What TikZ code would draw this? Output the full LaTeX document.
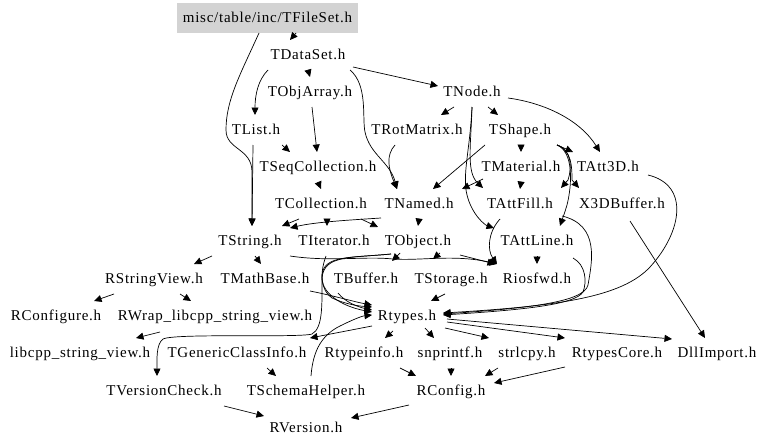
\documentclass[tikz,border=0pt]{standalone}
\usepackage{fontspec}
\setmainfont{Liberation Serif}[LetterSpace=5]
\usetikzlibrary{arrows.meta,calc}
\definecolor{rootfill}{RGB}{211,211,211}
\begin{document}
\begin{tikzpicture}[x=1pt,y=-1pt,
  lbl/.style={inner xsep=4pt,inner ysep=0pt,minimum height=29pt,text height=11pt,text depth=3pt,font=\fontsize{15}{18}\selectfont},
  rootbox/.style={lbl,fill=rootfill,minimum width=181pt,minimum height=30pt},
  e/.style={draw,line width=0.7pt,-{Triangle[length=7.5pt,width=7pt]}}]
\useasboundingbox[fill=white] (0,0) rectangle (768,447);
% nodes
\node[rootbox] (FileSet) at (267.5,18) {misc/table/inc/TFileSet.h};
\node[lbl] (DataSet) at (308,55) {TDataSet.h};
\node[lbl] (ObjArray) at (310,92) {TObjArray.h};
\node[lbl] (Node) at (472,92) {TNode.h};
\node[lbl] (List) at (256,130) {TList.h};
\node[lbl] (RotMatrix) at (417,130) {TRotMatrix.h};
\node[lbl] (Shape) at (520,130) {TShape.h};
\node[lbl] (SeqColl) at (318,167) {TSeqCollection.h};
\node[lbl] (Material) at (521,167) {TMaterial.h};
\node[lbl] (Att3D) at (608,167) {TAtt3D.h};
\node[lbl] (Collection) at (321,204) {TCollection.h};
\node[lbl] (Named) at (419,204) {TNamed.h};
\node[lbl] (AttFill) at (520,204) {TAttFill.h};
\node[lbl] (X3D) at (622,204) {X3DBuffer.h};
\node[lbl] (String) at (250,241) {TString.h};
\node[lbl] (Iterator) at (334,241) {TIterator.h};
\node[lbl] (Object) at (418,241) {TObject.h};
\node[lbl] (AttLine) at (537,241) {TAttLine.h};
\node[lbl] (RSV) at (154,279) {RStringView.h};
\node[lbl] (MathBase) at (265,279) {TMathBase.h};
\node[lbl] (Buffer) at (366,279) {TBuffer.h};
\node[lbl] (Storage) at (451,279) {TStorage.h};
\node[lbl] (Riosfwd) at (537,279) {Riosfwd.h};
\node[lbl] (RConfigure) at (56,316) {RConfigure.h};
\node[lbl] (RWrap) at (215,316) {RWrap\_libcpp\_string\_view.h};
\node[lbl] (Rtypes) at (407,316) {Rtypes.h};
\node[lbl] (libcpp) at (80,353) {libcpp\_string\_view.h};
\node[lbl] (GenCI) at (237,353) {TGenericClassInfo.h};
\node[lbl] (Rtypeinfo) at (364,353) {Rtypeinfo.h};
\node[lbl] (snprintf) at (450,353) {snprintf.h};
\node[lbl] (strlcpy) at (527,353) {strlcpy.h};
\node[lbl] (RtypesCore) at (617,353) {RtypesCore.h};
\node[lbl] (DllImport) at (717,353) {DllImport.h};
\node[lbl] (VersionCheck) at (164,391) {TVersionCheck.h};
\node[lbl] (SchemaHelper) at (306,391) {TSchemaHelper.h};
\node[lbl] (RConfig) at (451,391) {RConfig.h};
\node[lbl] (RVersion) at (306,428) {RVersion.h};
% edges
\draw[e] ($(FileSet)+(28.5,15)$) -- ($(DataSet)+(-18,-15)$);
\draw[e] ($(FileSet)+(-8.5,15)$) .. controls (240,75) and (226,100) .. (226,130) .. controls (226,150) and (252,148) .. (252,172) -- ($(String)+(2,-15)$);
\draw[e] ($(List)+(-3,15)$) -- ($(String)+(2,-15)$);
\draw[e] ($(DataSet)+(0,15)$) -- ($(ObjArray)+(0,-15)$);
\draw[e] ($(DataSet)+(-40,15)$) .. controls (258,80) and (255,95) .. ($(List)+(-1,-15)$);
\draw[e] ($(DataSet)+(45,12)$) -- ($(Node)+(-34,-6)$);
\draw[e] ($(DataSet)+(42,15)$) .. controls (368,85) and (362,118) .. (365,132) .. controls (370,155) and (390,162) .. ($(Named)+(-22,-15)$);
\draw[e] ($(RotMatrix)+(-22,15)$) .. controls (386,155) and (388,168) .. ($(Named)+(-22,-15)$);
\draw[e] ($(Node)+(-18,15)$) -- ($(RotMatrix)+(24,-15)$);
\draw[e] ($(Node)+(16,15)$) -- ($(Shape)+(-22,-15)$);
\draw[e] ($(Node)+(36,6)$) .. controls (545,103) and (580,120) .. ($(Att3D)+(-8,-15)$);
\draw[e] ($(Node)+(0,15)$) .. controls (471,145) and (466,172) .. ($(AttFill)+(-37,-16)$);
\draw[e] ($(Node)+(0,15)$) .. controls (470,150) and (462,175) .. (467,195) .. controls (472,215) and (485,225) .. ($(AttLine)+(-43,-13)$);
\draw[e] ($(Shape)+(-35,15)$) -- ($(Named)+(14,-15)$);
\draw[e] ($(Shape)+(1,15)$) -- ($(Material)+(0,-15)$);
\draw[e] ($(Shape)+(37,15)$) -- ($(Att3D)+(-35,-15)$);
\draw[e] ($(Shape)+(37,15)$) .. controls (572,150) and (572,168) .. (568,180) -- ($(AttFill)+(41,-16)$);
\draw[e] ($(Shape)+(37,15)$) .. controls (572,150) and (572,168) .. (572,180) -- ($(X3D)+(-43,-16)$);
\draw[e] ($(Shape)+(37,15)$) .. controls (574,152) and (572,185) .. (567,205) .. controls (565,212) and (562,220) .. ($(AttLine)+(23,-15)$);
\draw[e] ($(Material)+(-38,12)$) -- ($(Named)+(43,-15)$);
\draw[e] ($(Material)+(0,15)$) -- ($(AttFill)+(0,-15)$);
\draw[e] ($(ObjArray)+(2,15)$) -- ($(SeqColl)+(-1,-15)$);
\draw[e] ($(List)+(26,15)$) -- ($(SeqColl)+(-28,-15)$);
\draw[e] ($(SeqColl)+(0,15)$) -- ($(Collection)+(0,-15)$);
\draw[e] ($(Collection)+(-22,15)$) -- ($(String)+(32,-15)$);
\draw[e] ($(Collection)+(6,15)$) -- ($(Iterator)+(-7,-15)$);
\draw[e] ($(Collection)+(40,15)$) -- ($(Object)+(-40,-14)$);
\draw[e] ($(Named)+(-38,14)$) .. controls (350,220) and (315,222) .. ($(String)+(40,-13)$);
\draw[e] ($(Named)+(0,15)$) -- ($(Object)+(0,-15)$);
\draw[e] ($(String)+(-38,15)$) -- ($(RSV)+(40,-15)$);
\draw[e] ($(String)+(5,15)$) -- ($(MathBase)+(-4,-15)$);
\draw[e] ($(String)+(40,15)$) .. controls (330,262) and (365,256) .. (393,259) .. controls (420,261) and (455,254) .. ($(Riosfwd)+(-40,-15)$);
\draw[e] ($(Object)+(42,14)$) -- ($(Riosfwd)+(-42,-15)$);
\draw[e] ($(AttLine)+(0,15)$) -- ($(Riosfwd)+(0,-15)$);
\draw[e] ($(AttFill)+(-20,15)$) .. controls (488,232) and (487,250) .. ($(Riosfwd)+(-40,-15)$);
\draw[e] ($(Object)+(-18,12)$) -- ($(Buffer)+(26,-18)$);
\draw[e] ($(Object)+(22,12)$) -- ($(Storage)+(-18,-20)$);
\draw[e] ($(Object)+(-27,13)$) .. controls (350,258) and (324,255) .. (322,275) .. controls (320,292) and (340,306) .. ($(Rtypes)+(-35,-4)$);
\draw[e] ($(Object)+(-27,13)$) .. controls (350,258) and (324,255) .. (322,278) .. controls (322,305) and (323,328) .. (312,334) .. controls (300,338) and (175,333) .. (163,339) .. controls (156,344) and (157,360) .. ($(VersionCheck)+(-7,-15)$);
\draw[e] ($(Iterator)+(-8,15)$) .. controls (320,272) and (320,290) .. (332,298) .. controls (345,304) and (358,306) .. ($(Rtypes)+(-35,-9)$);
\draw[e] ($(MathBase)+(45,12)$) .. controls (335,296) and (355,302) .. ($(Rtypes)+(-35,-11)$);
\draw[e] ($(Buffer)+(-28,14)$) .. controls (345,302) and (358,307) .. ($(Rtypes)+(-35,-6)$);
\draw[e] ($(SchemaHelper)+(5,-15)$) .. controls (313,350) and (322,335) .. (340,326) .. controls (352,320) and (362,316) .. ($(Rtypes)+(-35,-1)$);
\draw[e] ($(Storage)+(-6,15)$) -- ($(Rtypes)+(24,-15)$);
\draw[e] ($(AttFill)+(42,12)$) .. controls (600,225) and (592,262) .. (588,285) .. controls (584,302) and (530,308) .. ($(Rtypes)+(36,-2)$);
\draw[e] ($(AttLine)+(36,17)$) .. controls (586,265) and (587,282) .. (583,292) .. controls (575,305) and (520,310) .. ($(Rtypes)+(36,-1)$);
\draw[e] ($(Att3D)+(40,8)$) .. controls (690,185) and (682,232) .. (650,267) .. controls (622,297) and (560,306) .. ($(Rtypes)+(36,-3)$);
\draw[e] ($(X3D)+(8,17)$) -- ($(DllImport)+(-12,-15)$);
\draw[e] ($(RSV)+(-40,15)$) -- ($(RConfigure)+(38,-15)$);
\draw[e] ($(RSV)+(26,15)$) -- ($(RWrap)+(-24,-15)$);
\draw[e] ($(RWrap)+(-55,16)$) -- ($(libcpp)+(56,-15)$);
\draw[e] ($(Rtypes)+(-35,10)$) -- ($(GenCI)+(73,-15)$);
\draw[e] ($(Rtypes)+(-14,15)$) -- ($(Rtypeinfo)+(21,-15)$);
\draw[e] ($(Rtypes)+(18,12)$) -- ($(snprintf)+(-16,-15)$);
\draw[e] ($(Rtypes)+(38,12)$) -- ($(strlcpy)+(-38,-15)$);
\draw[e] ($(Rtypes)+(40,6)$) -- ($(RtypesCore)+(-52,-15)$);
\draw[e] ($(Rtypes)+(40,3)$) -- ($(DllImport)+(-45,-14)$);
\draw[e] ($(Rtypeinfo)+(36,15)$) -- ($(RConfig)+(-35,-15)$);
\draw[e] ($(snprintf)+(1,15)$) -- ($(RConfig)+(0,-15)$);
\draw[e] ($(strlcpy)+(-29,15)$) -- ($(RConfig)+(34,-15)$);
\draw[e] ($(RtypesCore)+(-52,14)$) -- ($(RConfig)+(43,-8)$);
\draw[e] ($(RConfig)+(-42,14)$) -- ($(RVersion)+(45,-10)$);
\draw[e] ($(VersionCheck)+(60,15)$) -- ($(RVersion)+(-42,-12)$);
\draw[e] ($(GenCI)+(30,15)$) -- ($(SchemaHelper)+(-30,-15)$);
\end{tikzpicture}
\end{document}
